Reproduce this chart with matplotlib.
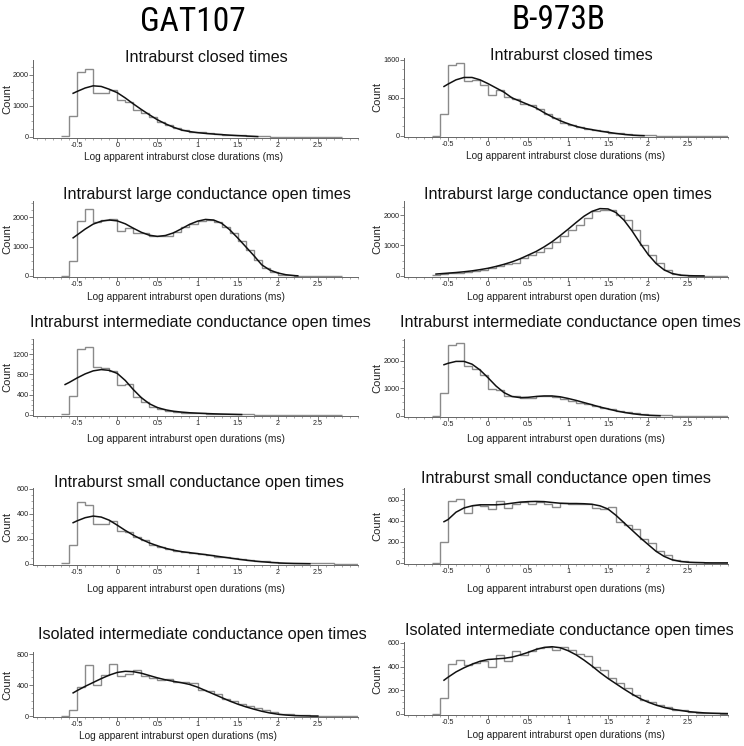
import numpy as np
import matplotlib
matplotlib.use("Agg")
import matplotlib.pyplot as plt
from matplotlib import font_manager
from matplotlib.ticker import MultipleLocator, FixedLocator, FixedFormatter

# --- datos ---
col_titles = ["GAT107", "B-973B"]
panel_titles = [
    "Intraburst closed times",
    "Intraburst large conductance open times",
    "Intraburst intermediate conductance open times",
    "Intraburst small conductance open times",
    "Isolated intermediate conductance open times",
]
xlabels_left = [
    "Log apparent intraburst close durations (ms)",
    "Log apparent intraburst open durations (ms)",
    "Log apparent intraburst open durations (ms)",
    "Log apparent intraburst open durations (ms)",
    "Log apparent intraburst open durations (ms)",
]
xlabels_right = [
    "Log apparent intraburst close durations (ms)",
    "Log apparent intraburst open duration (ms)",
    "Log apparent intraburst open durations (ms)",
    "Log apparent intraburst open durations (ms)",
    "Log apparent intraburst open durations (ms)",
]
xtick_vals = [-0.5, 0, 0.5, 1, 1.5, 2, 2.5]
xtick_labels = ["-0.5", "0", "0.5", "1", "1.5", "2", "2.5"]
bin_start = -0.7
bin_width = 0.1

# GAT107
gat_closed_counts = [20, 660, 2080, 2180, 1420, 1420, 1500, 1180, 1130, 860, 770, 630, 490, 390,
                     280, 230, 170, 140, 115, 95, 75, 60, 45, 30, 20, 12, 8, 6, 5, 4, 3, 3, 2, 2, 2]
gat_closed_fit_x = [-0.55, -0.5, -0.4, -0.3, -0.2, -0.1, 0, 0.1, 0.2, 0.3, 0.4, 0.5, 0.6, 0.7, 0.8,
                    0.9, 1.0, 1.1, 1.2, 1.3, 1.4, 1.5, 1.6, 1.7, 1.75]
gat_closed_fit_y = [1400, 1460, 1570, 1640, 1620, 1530, 1420, 1250, 1060, 880, 710, 550, 420, 310,
                    220, 170, 135, 110, 90, 72, 55, 40, 28, 15, 8]

gat_large_counts = [10, 500, 1865, 2280, 1830, 1920, 1940, 1525, 1640, 1470, 1470, 1360, 1380, 1380,
                    1490, 1660, 1770, 1860, 1920, 1830, 1660, 1470, 1190, 880, 540, 280, 140, 40,
                    20, 12, 10, 10, 10, 10, 10]
gat_large_fit_x = [-0.55, -0.5, -0.4, -0.3, -0.2, -0.1, 0, 0.1, 0.2, 0.3, 0.4, 0.5, 0.6, 0.7, 0.8,
                   0.9, 1.0, 1.1, 1.2, 1.3, 1.4, 1.5, 1.6, 1.7, 1.8, 1.9, 2.0, 2.1, 2.2, 2.25]
gat_large_fit_y = [1300, 1400, 1600, 1770, 1870, 1910, 1880, 1780, 1630, 1490, 1390, 1350, 1380,
                   1470, 1610, 1760, 1870, 1930, 1910, 1800, 1580, 1300, 1000, 700, 380, 200, 100,
                   40, 10, 3]

gat_inter_counts = [10, 380, 1300, 1340, 940, 920, 860, 590, 610, 360, 250, 165, 110, 80, 60, 45,
                    35, 28, 22, 18, 15, 12, 10, 8, 6, 5, 5, 4, 4, 3, 3, 3, 3, 3, 3]
gat_inter_fit_x = [-0.65, -0.6, -0.5, -0.4, -0.3, -0.2, -0.1, 0, 0.1, 0.2, 0.3, 0.4, 0.5, 0.6, 0.7,
                   0.8, 0.9, 1.0, 1.1, 1.2, 1.3, 1.4, 1.5, 1.55]
gat_inter_fit_y = [600, 640, 730, 810, 870, 895, 880, 820, 680, 500, 340, 220, 145, 100, 72, 55,
                   42, 34, 27, 21, 16, 12, 8, 6]

gat_small_counts = [5, 155, 496, 470, 320, 320, 347, 267, 256, 213, 190, 155, 133, 120, 101, 93,
                    88, 80, 72, 59, 53, 45, 37, 29, 24, 19, 13, 10, 8, 6, 5, 4, 3, 3, 2, 2, 2]
gat_small_fit_x = [-0.55, -0.5, -0.4, -0.3, -0.2, -0.1, 0, 0.1, 0.2, 0.3, 0.4, 0.5, 0.6, 0.7, 0.8,
                   0.9, 1.0, 1.1, 1.2, 1.3, 1.4, 1.5, 1.6, 1.7, 1.8, 1.9, 2.0, 2.1, 2.2, 2.3, 2.4]
gat_small_fit_y = [330, 345, 370, 383, 375, 350, 310, 268, 230, 197, 168, 145, 125, 110, 98, 90,
                   82, 74, 65, 56, 47, 38, 30, 23, 17, 12, 8, 5, 3, 2, 1]

gat_iso_counts = [5, 77, 370, 660, 404, 530, 672, 519, 540, 596, 523, 490, 468, 480, 438, 447, 425,
                  340, 320, 285, 225, 190, 157, 128, 98, 72, 47, 30, 20, 12, 8, 5, 4, 3, 3, 3, 3]
gat_iso_fit_x = [-0.55, -0.5, -0.4, -0.3, -0.2, -0.1, 0, 0.1, 0.2, 0.3, 0.4, 0.5, 0.6, 0.7, 0.8,
                 0.9, 1.0, 1.1, 1.2, 1.3, 1.4, 1.5, 1.6, 1.7, 1.8, 1.9, 2.0, 2.1, 2.2, 2.3, 2.4, 2.5]
gat_iso_fit_y = [300, 330, 385, 435, 485, 530, 565, 580, 575, 555, 525, 495, 470, 450, 432, 410,
                 375, 330, 285, 240, 195, 155, 120, 90, 62, 40, 24, 13, 6, 3, 1, 0]

# B-973B
b9_closed_counts = [5, 470, 1495, 1530, 1150, 1170, 1080, 870, 960, 820, 780, 680, 640, 570, 470,
                    380, 280, 220, 180, 150, 125, 100, 70, 50, 30, 20, 12, 8, 6, 5, 4, 3, 3, 2, 2, 2, 2]
b9_closed_fit_x = [-0.55, -0.5, -0.4, -0.3, -0.2, -0.1, 0, 0.1, 0.2, 0.3, 0.4, 0.5, 0.6, 0.7, 0.8,
                   0.9, 1.0, 1.1, 1.2, 1.3, 1.4, 1.5, 1.6, 1.7, 1.8, 1.9, 1.95]
b9_closed_fit_y = [1040, 1090, 1180, 1230, 1230, 1180, 1100, 1010, 920, 800, 730, 660, 590, 490,
                   400, 320, 255, 200, 160, 130, 100, 75, 50, 30, 15, 6, 3]

b9_large_counts = [30, 70, 100, 110, 130, 150, 190, 250, 340, 380, 430, 580, 680, 780, 900, 1100,
                   1300, 1520, 1680, 1900, 2140, 2180, 2170, 2000, 1830, 1500, 1020, 680, 420, 180,
                   60, 20, 10, 5, 3, 2, 2]
b9_large_fit_x = [-0.65, -0.6, -0.5, -0.4, -0.3, -0.2, -0.1, 0, 0.1, 0.2, 0.3, 0.4, 0.5, 0.6, 0.7,
                  0.8, 0.9, 1.0, 1.1, 1.2, 1.3, 1.4, 1.5, 1.6, 1.7, 1.8, 1.9, 2.0, 2.1, 2.2, 2.3,
                  2.4, 2.5, 2.6, 2.7]
b9_large_fit_y = [60, 70, 90, 110, 135, 165, 205, 250, 310, 380, 460, 560, 680, 800, 950, 1120,
                  1320, 1530, 1750, 1960, 2120, 2210, 2200, 2080, 1830, 1480, 1080, 710, 410, 200,
                  80, 25, 8, 2, 0]

b9_inter_counts = [5, 810, 2575, 2630, 1820, 1700, 1460, 960, 920, 700, 700, 660, 660, 700, 700,
                   690, 600, 540, 480, 420, 360, 290, 240, 180, 130, 90, 60, 35, 20, 15, 12, 10, 8,
                   7, 6, 5, 5]
b9_inter_fit_x = [-0.55, -0.5, -0.4, -0.3, -0.2, -0.1, 0, 0.1, 0.2, 0.3, 0.4, 0.5, 0.6, 0.7, 0.8,
                  0.9, 1.0, 1.1, 1.2, 1.3, 1.4, 1.5, 1.6, 1.7, 1.8, 1.9, 2.0, 2.1, 2.15]
b9_inter_fit_y = [1850, 1900, 1970, 1970, 1870, 1660, 1380, 1080, 840, 700, 660, 670, 700, 720, 720,
                  690, 630, 560, 480, 400, 320, 250, 180, 125, 80, 45, 22, 10, 5]

b9_small_counts = [3, 195, 590, 606, 475, 545, 538, 506, 585, 520, 553, 578, 560, 578, 560, 531,
                   569, 560, 562, 560, 522, 506, 528, 390, 360, 320, 225, 190, 110, 70, 28, 15, 8,
                   5, 3, 2, 1]
b9_small_fit_x = [-0.55, -0.5, -0.4, -0.3, -0.2, -0.1, 0, 0.1, 0.2, 0.3, 0.4, 0.5, 0.6, 0.7, 0.8,
                  0.9, 1.0, 1.1, 1.2, 1.3, 1.4, 1.5, 1.6, 1.7, 1.8, 1.9, 2.0, 2.1, 2.2, 2.3, 2.4,
                  2.5, 2.6, 2.7, 2.8, 2.9, 3.0]
b9_small_fit_y = [390, 410, 480, 520, 540, 550, 550, 550, 555, 565, 575, 580, 582, 580, 572, 565,
                  562, 562, 560, 555, 540, 510, 450, 380, 310, 240, 175, 110, 62, 30, 14, 6, 3, 1,
                  0, 0, 0]

b9_iso_counts = [3, 133, 424, 458, 410, 430, 450, 396, 495, 444, 529, 500, 529, 557, 569, 543, 563,
                 537, 506, 492, 399, 373, 303, 260, 218, 161, 119, 99, 76, 62, 34, 31, 15, 10, 6, 4, 3]
b9_iso_fit_x = [-0.55, -0.5, -0.4, -0.3, -0.2, -0.1, 0, 0.1, 0.2, 0.3, 0.4, 0.5, 0.6, 0.7, 0.8,
                0.9, 1.0, 1.1, 1.2, 1.3, 1.4, 1.5, 1.6, 1.7, 1.8, 1.9, 2.0, 2.1, 2.2, 2.3, 2.4, 2.5,
                2.6, 2.7, 2.8, 2.9, 3.0]
b9_iso_fit_y = [285, 310, 355, 390, 420, 445, 460, 465, 470, 480, 498, 520, 545, 562, 568, 560, 535,
                500, 455, 405, 350, 300, 255, 210, 168, 130, 100, 75, 55, 40, 30, 20, 14, 9, 6, 4, 3]

# ejes y de cada panel (ticks mayores, limite superior)
gat_yticks = [[0, 1000, 2000], [0, 1000, 2000], [0, 400, 800, 1200], [0, 200, 400, 600], [0, 400, 800]]
gat_ytop = [2470, 2560, 1500, 608, 830]
b9_yticks = [[0, 800, 1600], [0, 1000, 2000], [0, 1000, 2000], [0, 200, 400, 600], [0, 200, 400, 600]]
b9_ytop = [1640, 2460, 2780, 709, 608]

gat_panels = [
    (gat_closed_counts, gat_closed_fit_x, gat_closed_fit_y),
    (gat_large_counts, gat_large_fit_x, gat_large_fit_y),
    (gat_inter_counts, gat_inter_fit_x, gat_inter_fit_y),
    (gat_small_counts, gat_small_fit_x, gat_small_fit_y),
    (gat_iso_counts, gat_iso_fit_x, gat_iso_fit_y),
]
b9_panels = [
    (b9_closed_counts, b9_closed_fit_x, b9_closed_fit_y),
    (b9_large_counts, b9_large_fit_x, b9_large_fit_y),
    (b9_inter_counts, b9_inter_fit_x, b9_inter_fit_y),
    (b9_small_counts, b9_small_fit_x, b9_small_fit_y),
    (b9_iso_counts, b9_iso_fit_x, b9_iso_fit_y),
]

# --- layout en pixeles (imagen de 744 x 746) ---
W, H = 744, 746
fuentes = {f.name for f in font_manager.fontManager.ttflist}
fuente = "Liberation Sans" if "Liberation Sans" in fuentes else "DejaVu Sans"
fuente_header = fuente
size_header = 21
for cand in ["Liberation Sans Narrow", "Arial Narrow", "Roboto Condensed", "Open Sans Condensed"]:
    if cand in fuentes:
        fuente_header = cand
        size_header = 24
        break
plt.rcParams["font.family"] = fuente

# (x0, top, x1, bottom) de cada eje
rect_left = [(33, 60, 358, 138), (33, 201, 358, 277), (33, 339, 358, 416), (33, 488, 358, 565), (33, 652, 358, 717)]
rect_right = [(404, 58, 728, 137), (404, 201, 728, 277), (404, 339, 728, 417), (404, 488, 728, 564), (404, 642, 728, 715)]
title_pos_left = [(206, 58), (207, 195), (200, 322), (199, 482), (202, 635)]
title_pos_right = [(571, 56), (568, 195), (570, 322), (566, 478), (569, 630)]
xlabel_pos_left = [(183, 157), (186, 297), (186, 439), (186, 589), (178, 736)]
xlabel_pos_right = [(565, 156), (563, 297), (566, 439), (566, 589), (566, 735)]

fig = plt.figure(figsize=(W / 100, H / 100), dpi=100)
fig.patch.set_facecolor("white")


def px(x, y):
    return x / W, 1 - y / H


def dibujar_panel(rect, datos, yticks, ytop, titulo, tpos, xlabel, xlpos, count_x):
    x0, top, x1, bot = rect
    ax = fig.add_axes([x0 / W, 1 - bot / H, (x1 - x0) / W, (bot - top) / H])
    counts, fx, fy = datos
    edges = np.round(bin_start + bin_width * np.arange(len(counts) + 1), 2)
    ax.stairs(counts, edges, color="#8a8a8a", linewidth=1.0, baseline=None)
    ax.plot(fx, fy, color="#111111", linewidth=1.1)

    ax.set_xlim(-1.05, 3.0)
    ax.set_ylim(-0.015 * ytop, ytop)
    for s in ["top", "right"]:
        ax.spines[s].set_visible(False)
    for s in ["left", "bottom"]:
        ax.spines[s].set_color("#666666")
        ax.spines[s].set_linewidth(0.7)

    ax.xaxis.set_major_locator(FixedLocator(xtick_vals))
    ax.xaxis.set_major_formatter(FixedFormatter(xtick_labels))
    ax.xaxis.set_minor_locator(MultipleLocator(0.1))
    ax.yaxis.set_major_locator(FixedLocator(yticks))
    ax.yaxis.set_minor_locator(MultipleLocator((yticks[1] - yticks[0]) / 4))
    ax.tick_params(which="major", length=2.6, width=0.6, color="#666666", labelsize=5.2,
                   labelcolor="#222222", pad=0.6)
    ax.tick_params(which="minor", length=1.6, width=0.5, color="#888888")

    fig.text(*px(*tpos), titulo, ha="center", va="center", fontsize=11.6, color="#111111")
    fig.text(*px(*xlpos), xlabel, ha="center", va="center", fontsize=7.3, color="#222222")
    fig.text(*px(count_x, (top + bot) / 2), "Count", ha="center", va="center", rotation=90,
             fontsize=8, color="#222222")
    return ax


for i in range(5):
    dibujar_panel(rect_left[i], gat_panels[i], gat_yticks[i], gat_ytop[i], panel_titles[i],
                  title_pos_left[i], xlabels_left[i], xlabel_pos_left[i], 7)
    dibujar_panel(rect_right[i], b9_panels[i], b9_yticks[i], b9_ytop[i], panel_titles[i],
                  title_pos_right[i], xlabels_right[i], xlabel_pos_right[i], 377)

fig.text(*px(193, 22), col_titles[0], ha="center", va="center", fontsize=size_header, family=fuente_header)
fig.text(*px(558, 20), col_titles[1], ha="center", va="center", fontsize=size_header, family=fuente_header)

fig.savefig("out.png", dpi=100)
